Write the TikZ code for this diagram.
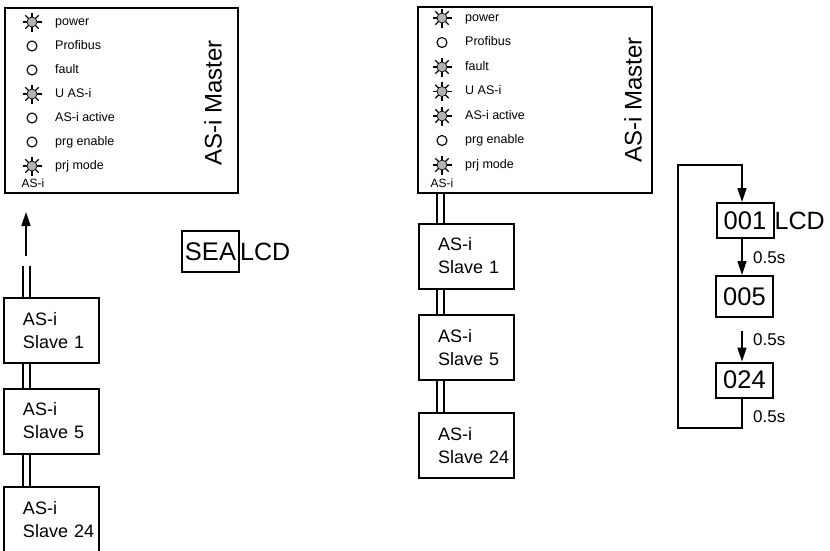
\documentclass[tikz,border=0pt]{standalone}
\usepackage{fontspec}
\setmainfont{Liberation Sans}
\usetikzlibrary{arrows.meta}

% Voyants : allumé et éteint
\newcommand{\ledon}[1]{%
  \foreach \a in {0,45,...,315}
    \draw[line width=1.2pt, shift={#1}] (\a:4.5pt) -- (\a:9.5pt);
  \filldraw[fill=gray!60, line width=0.7pt] #1 circle (5pt);
}
\newcommand{\ledoff}[1]{\draw[line width=1.1pt] #1 circle (5pt);}

\begin{document}
\begin{tikzpicture}[x=1pt,y=-1pt,
    cadre/.style={draw, line width=2pt},
    maitre/.style={cadre, minimum width=233pt, minimum height=185pt},
    esclave/.style={cadre, minimum height=65pt, text width=57pt, inner xsep=19pt,
      align=left, font=\fontsize{18}{23}\selectfont},
    afficheur/.style={cadre, minimum width=57pt, minimum height=35pt, inner sep=0pt,
      font=\fontsize{25.5}{28}\selectfont},
    bus/.style={double, double distance=5pt, line width=2pt},
    fleche/.style={line width=1.6pt, -{Triangle[length=14pt,width=9pt]}},
    etiquette/.style={anchor=west, inner sep=0pt, text height=8.5pt, text depth=2.5pt,
      font=\fontsize{12.5}{14}\selectfont},
    titre/.style={rotate=90, inner sep=0pt, font=\fontsize{24}{28}\selectfont},
    petit/.style={inner sep=0pt, font=\fontsize{12}{14}\selectfont},
    grand/.style={anchor=west, inner sep=0pt, font=\fontsize{25}{28}\selectfont},
    delai/.style={anchor=west, inner sep=0pt, font=\fontsize{17}{19}\selectfont},
  ]
  \useasboundingbox (0,0) rectangle (830,550);

  % Maître de gauche
  \node[maitre] (maitreA) at (121.5,100.5) {};
  \node[titre] (titreA) at (213,103) {AS-i Master};
  \foreach \y/\etat/\txt [count=\i] in {22/1/power, 46/0/Profibus, 70/0/fault,
      94/1/U AS-i, 118/0/AS-i active, 142/0/prg enable, 166/1/prj mode}
  {
    \node[etiquette] (ledA\i) at (55,\y) {\txt};
    \ifnum\etat=1 \ledon{(32,\y)} \else \ledoff{(32,\y)} \fi
  }
  \node[petit] (asiA) at (33,183) {AS-i};

  % Esclaves de gauche
  \node[esclave] (esclaveA1) at (51.5,330.5) {AS-i\\Slave~1};
  \node[esclave] (esclaveA5) at (51.5,421) {AS-i\\Slave~5};
  \node[esclave] (esclaveA24) at (51.5,519.5) {AS-i\\Slave~24};
  \coordinate (busA) at ([xshift=23pt]esclaveA1.north west);
  \draw[bus] (busA) -- ++(0,-31);
  \coordinate (departA) at ([yshift=41pt]busA);
  \draw[fleche, shorten >=18pt] (departA) -- (departA |- maitreA.south);
  \foreach \a/\b in {esclaveA1/esclaveA5, esclaveA5/esclaveA24}
    \draw[bus] ([xshift=23pt]\a.south west) -- ([xshift=23pt]\b.north west);

  % Affichage SEA
  \node[afficheur, minimum height=41pt] (sea) at (210.5,251.5) {SEA};
  \node[grand] (lcdA) at (sea.east) {LCD};

  % Maître de droite
  \node[maitre, minimum width=234pt, minimum height=186pt] (maitreB) at (535,100) {};
  \node[titre] (titreB) at (633,100) {AS-i Master};
  \foreach \y/\etat/\txt [count=\i] in {18/1/power, 42.5/0/Profibus, 67/1/fault,
      91.5/1/U AS-i, 116/1/AS-i active, 140.5/0/prg enable, 165/1/prj mode}
  {
    \node[etiquette] (ledB\i) at (465,\y) {\txt};
    \ifnum\etat=1 \ledon{(442,\y)} \else \ledoff{(442,\y)} \fi
  }
  \node[petit] (asiB) at (442,183) {AS-i};

  % Esclaves de droite
  \node[esclave] (esclaveB1) at (466.5,256) {AS-i\\Slave~1};
  \node[esclave] (esclaveB5) at (466.5,347.5) {AS-i\\Slave~5};
  \node[esclave] (esclaveB24) at (466.5,445.5) {AS-i\\Slave~24};
  \coordinate (busB) at ([xshift=22.5pt]esclaveB1.north west);
  \draw[bus] (busB) -- (busB |- maitreB.south);
  \foreach \a/\b in {esclaveB1/esclaveB5, esclaveB5/esclaveB24}
    \draw[bus] ([xshift=22.5pt]\a.south west) -- ([xshift=22.5pt]\b.north west);

  % Cycle de l'afficheur
  \node[afficheur] (lcd001) at (745,220.5) {001};
  \node[grand] (lcdB) at (lcd001.east) {LCD};
  \node[afficheur, minimum height=41pt] (lcd005) at (744.5,296.5) {005};
  \node[afficheur] (lcd024) at (744.5,380) {024};
  \coordinate (axe) at (742,0);
  \coordinate (boucleBas) at (678,428);
  \coordinate (boucleHaut) at (678,165);
  \draw[fleche] (lcd001.south -| axe) -- (lcd005.north -| axe);
  \draw[fleche, shorten <=13pt] (lcd005.south -| axe) -- (lcd024.north -| axe);
  \draw[fleche] (lcd024.south -| axe) |- (boucleBas) -- (boucleHaut) -| (lcd001.north -| axe);
  \node[delai] (delai1) at (753,258) {0.5s};
  \node[delai] (delai2) at (753,340) {0.5s};
  \node[delai] (delai3) at (753,417) {0.5s};
\end{tikzpicture}
\end{document}
